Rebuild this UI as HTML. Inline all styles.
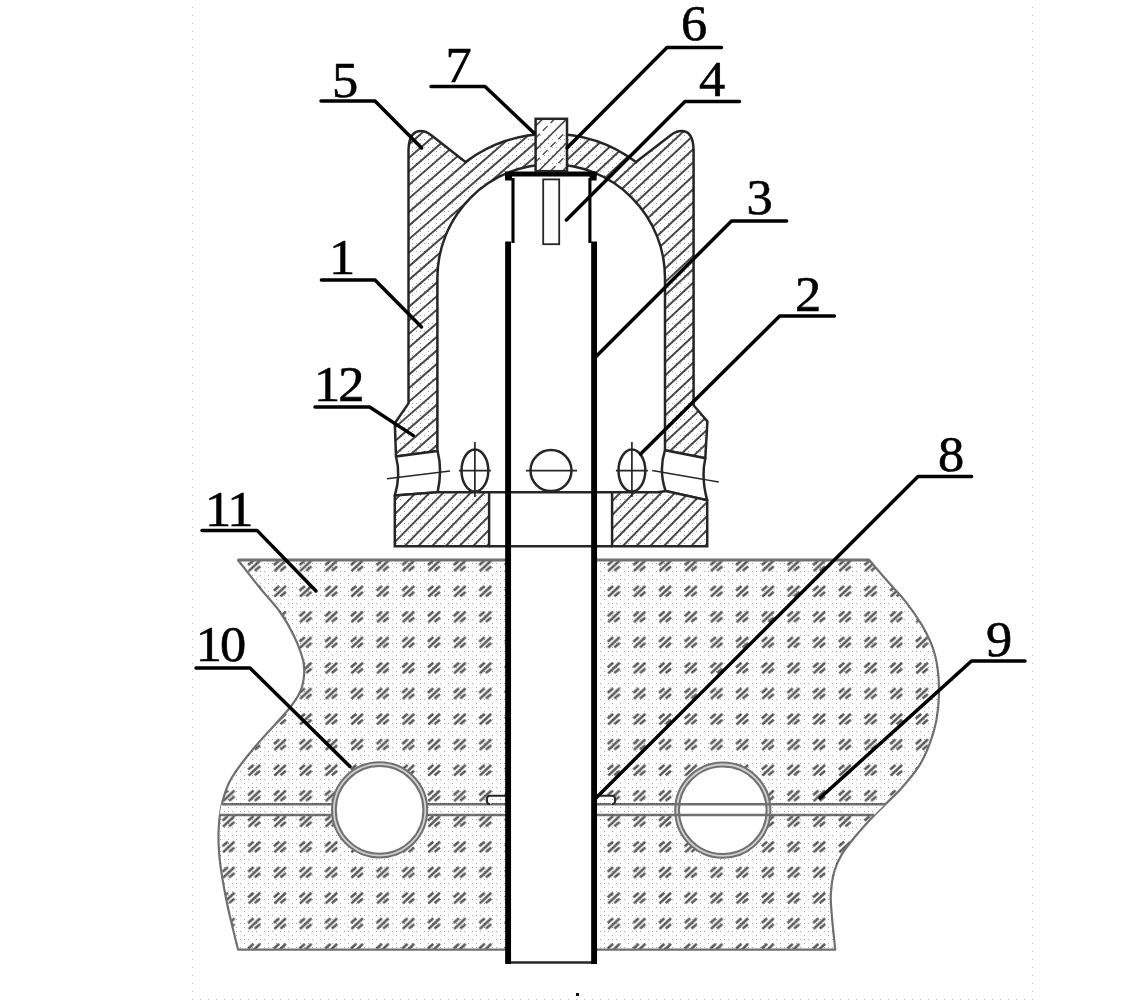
<!DOCTYPE html>
<html lang="zh"><head><meta charset="utf-8"><title>Figure</title>
<style>
html,body{margin:0;padding:0;background:#fff;}
body{width:1126px;height:1000px;overflow:hidden;}
svg{display:block;}
.lb{font-family:"Liberation Serif","Noto Serif CJK SC",serif;font-size:51.4px;fill:#000;stroke:#000;stroke-width:0.6px;letter-spacing:-2px;}
</style></head><body>
<svg width="1126" height="1000" viewBox="0 0 1126 1000">
<defs>
<pattern id="gm" x="10.24" y="16.08" width="25.68" height="25.56" patternUnits="userSpaceOnUse">
<g stroke="#5a5a5a" stroke-width="2.6" stroke-linecap="butt" transform="translate(12.8 12.8)">
<line x1="-6" y1="-0.6" x2="-0.6" y2="-5.3"/>
<line x1="-5.5" y1="5.5" x2="6" y2="-5.1"/>
<line x1="0.6" y1="5.1" x2="6" y2="0.8"/>
</g></pattern>
<pattern id="dz" x="0" y="3" width="16" height="16" patternUnits="userSpaceOnUse">
<g fill="#a4a4a4"><rect x="0" y="0" width="1" height="1"/><rect x="8" y="0" width="1" height="1"/><rect x="4" y="4" width="1" height="1"/><rect x="12" y="4" width="1" height="1"/><rect x="0" y="8" width="1" height="1"/><rect x="4" y="8" width="1" height="1"/><rect x="8" y="8" width="1" height="1"/><rect x="12" y="12" width="1" height="1"/><rect x="4" y="12" width="1" height="1"/><rect x="12" y="0" width="1" height="1"/></g></pattern>
<filter id="bl" x="0" y="0" width="1126" height="1000" filterUnits="userSpaceOnUse"><feGaussianBlur stdDeviation="0.45"/></filter>
<clipPath id="cbl"><path d="M551.2 133 L551.2 164.2 A113.8 113.8 0 0 0 437.4 278 L437.4 451 L396 456.5 L394.8 423.2 L408.5 403.4 L408.5 150 Q409 131 421 131 Q426 131 431 135 L465.5 162 A143 143 0 0 1 551 133 Z"/></clipPath>
<clipPath id="cbr"><path d="M551.2 133 L551.2 164.2 A113.8 113.8 0 0 1 665 278 L665 450.2 L705.3 458.3 L707.4 421.4 L693.6 405.2 L693.6 150 Q693.2 131 681.5 131 Q676 131 671 135 L636 162 A143 143 0 0 0 551 133 Z"/></clipPath>
<clipPath id="csl"><path d="M394.8 495.6 L437.6 492.3 L489.1 492.3 L489.1 546.3 L394.8 546.3 Z"/></clipPath>
<clipPath id="csr"><path d="M612.1 492.3 L658 492.3 L665.6 491 L707.2 500.3 L707.2 546.3 L612.1 546.3 Z"/></clipPath>
<clipPath id="cpin"><rect x="535.6" y="118.8" width="31.4" height="52.4"/></clipPath>
</defs>
<g filter="url(#bl)">
<path d="M238 560 L869.3 560 C872.4 563.6 882.0 574.9 888.0 581.8C894.0 588.7 900.1 594.6 905.6 601.6C911.1 608.6 916.6 616.3 921.0 623.6C925.4 630.9 929.2 638.3 932.0 645.6C934.8 652.9 936.3 659.5 937.5 667.6C938.7 675.7 939.2 685.2 939.0 694.0C938.8 702.8 937.9 712.2 936.4 720.4C934.9 728.6 932.7 735.7 929.8 743.4C926.9 751.1 923.6 758.9 918.8 766.4C914.0 773.9 906.9 782.0 901.2 788.4C895.5 794.8 889.5 800.1 884.7 804.9C879.9 809.7 877.6 811.7 872.6 817.0C867.6 822.3 860.1 830.6 855.0 836.8C849.9 843.0 845.3 848.5 841.8 854.4C838.3 860.3 835.9 865.4 834.1 872.0C832.3 878.6 831.2 886.7 830.8 894.0C830.4 901.3 831.2 906.7 831.9 916.0C832.6 925.3 834.7 944.0 835.2 949.6 L238.1 949.6 C237.4 947.0 236.1 942.2 234.2 934.0C232.2 925.8 228.8 912.3 226.4 900.2C224.0 888.1 221.2 872.9 219.9 861.2C218.6 849.5 218.2 840.0 218.6 830.0C219.0 820.0 220.3 810.1 222.5 801.4C224.7 792.7 226.2 787.1 231.6 778.0C237.0 768.9 245.6 758.1 255.0 746.8C264.4 735.5 280.5 719.1 288.0 710.0C295.5 700.9 297.3 697.7 300.0 692.0C302.7 686.3 303.5 681.3 304.0 676.0C304.5 670.7 304.7 666.7 303.0 660.0C301.3 653.3 297.8 644.0 294.0 636.0C290.2 628.0 285.7 620.0 280.0 612.0C274.3 604.0 267.0 596.7 260.0 588.0C253.0 579.3 241.7 564.7 238.0 560.0 Z" fill="url(#gm)" stroke="#707070" stroke-width="2.2" stroke-linejoin="round"/>
<line x1="238" y1="560" x2="869.5" y2="560" stroke="#707070" stroke-width="2.8"/>
<path d="M221.5 804.3 H885 L874 815 H219.5 Z" fill="#fff" stroke="none"/>
<circle cx="379.6" cy="809.9" r="45.8" fill="#fff" stroke="#d0d0d0" stroke-width="4"/>
<circle cx="379.6" cy="809.9" r="47.6" fill="none" stroke="#707070" stroke-width="2"/>
<circle cx="379.6" cy="809.9" r="43.8" fill="none" stroke="#707070" stroke-width="2"/>
<circle cx="722.8" cy="810.2" r="45.8" fill="#fff" stroke="#d0d0d0" stroke-width="4"/>
<circle cx="722.8" cy="810.2" r="47.6" fill="none" stroke="#707070" stroke-width="2"/>
<circle cx="722.8" cy="810.2" r="43.8" fill="none" stroke="#707070" stroke-width="2"/>
<path d="M221.5 804.3 H332.5 M219.5 815 H332.5 M427 804.3 H885 M427 815 H874" stroke="#707070" stroke-width="2.5" fill="none"/>
<path d="M506 795.7 H490 Q487 795.7 487 798.5 V801.5 Q487 804.1 490 804.1" fill="#fff" stroke="#262626" stroke-width="2"/>
<path d="M596 795.7 H612 Q615 795.7 615 798.5 V801.5 Q615 804.1 612 804.1" fill="#fff" stroke="#262626" stroke-width="2"/>
<path d="M396 456.5 L394.8 423.2 L408.5 403.4 L408.5 150 Q409 131 421 131 Q426 131 431 135 L465.5 162 A143 143 0 0 1 636 162 L671 135 Q676 131 681.5 131 Q693.2 131 693.6 150 L693.6 405.2 L707.4 421.4 L705.3 458.3 L665 450.2 L665 278 A113.8 113.8 0 0 0 437.4 278 L437.4 451 Z" fill="#fff" stroke="none"/>
<path clip-path="url(#cbl)" d="M390.0 106.5L552.0 -34.3M390.0 120.1L552.0 -20.7M390.0 133.6L552.0 -7.2M390.0 147.2L552.0 6.4M390.0 160.7L552.0 19.9M390.0 174.3L552.0 33.5M390.0 187.8L552.0 47.0M390.0 201.4L552.0 60.6M390.0 214.9L552.0 74.1M390.0 228.5L552.0 87.7M390.0 242.0L552.0 101.2M390.0 255.6L552.0 114.8M390.0 269.1L552.0 128.3M390.0 282.7L552.0 141.9M390.0 296.2L552.0 155.4M390.0 309.8L552.0 169.0M390.0 323.3L552.0 182.5M390.0 336.9L552.0 196.1M390.0 350.4L552.0 209.6M390.0 364.0L552.0 223.2M390.0 377.5L552.0 236.7M390.0 391.1L552.0 250.3M390.0 404.6L552.0 263.8M390.0 418.2L552.0 277.4M390.0 431.7L552.0 290.9M390.0 445.3L552.0 304.5M390.0 458.8L552.0 318.0M390.0 472.4L552.0 331.6M390.0 485.9L552.0 345.1M390.0 499.5L552.0 358.7M390.0 513.0L552.0 372.2M390.0 526.6L552.0 385.8M390.0 540.1L552.0 399.3M390.0 553.7L552.0 412.9M390.0 567.2L552.0 426.4M390.0 580.8L552.0 440.0M390.0 594.3L552.0 453.5M390.0 607.9L552.0 467.1M390.0 621.4L552.0 480.6" stroke="#4a4a4a" stroke-width="2.0" fill="none"/>
<path clip-path="url(#cbr)" d="M550.0 109.0L710.0 -40.2M550.0 122.4L710.0 -26.8M550.0 135.7L710.0 -13.5M550.0 149.1L710.0 -0.1M550.0 162.4L710.0 13.2M550.0 175.8L710.0 26.6M550.0 189.1L710.0 39.9M550.0 202.5L710.0 53.3M550.0 215.8L710.0 66.6M550.0 229.2L710.0 80.0M550.0 242.5L710.0 93.3M550.0 255.9L710.0 106.7M550.0 269.2L710.0 120.0M550.0 282.6L710.0 133.4M550.0 295.9L710.0 146.7M550.0 309.3L710.0 160.1M550.0 322.6L710.0 173.4M550.0 336.0L710.0 186.8M550.0 349.3L710.0 200.1M550.0 362.7L710.0 213.5M550.0 376.0L710.0 226.8M550.0 389.4L710.0 240.2M550.0 402.7L710.0 253.5M550.0 416.1L710.0 266.9M550.0 429.4L710.0 280.2M550.0 442.8L710.0 293.6M550.0 456.1L710.0 306.9M550.0 469.5L710.0 320.3M550.0 482.8L710.0 333.6M550.0 496.2L710.0 347.0M550.0 509.5L710.0 360.3M550.0 522.9L710.0 373.7M550.0 536.2L710.0 387.0M550.0 549.6L710.0 400.4M550.0 562.9L710.0 413.7M550.0 576.3L710.0 427.1M550.0 589.6L710.0 440.4M550.0 603.0L710.0 453.8M550.0 616.3L710.0 467.1M550.0 629.7L710.0 480.5" stroke="#4a4a4a" stroke-width="2.0" fill="none"/>
<path d="M396 456.5 L394.8 423.2 L408.5 403.4 L408.5 150 Q409 131 421 131 Q426 131 431 135 L465.5 162 A143 143 0 0 1 636 162 L671 135 Q676 131 681.5 131 Q693.2 131 693.6 150 L693.6 405.2 L707.4 421.4 L705.3 458.3 L665 450.2 L665 278 A113.8 113.8 0 0 0 437.4 278 L437.4 451 Z" fill="none" stroke="#262626" stroke-width="2.5" stroke-linejoin="round"/>
<path d="M396 456.5 L437.6 451 Q442.5 470 437.6 492.3 L394.8 495.6 Q401 475 396 456.5 Z" fill="#fff" stroke="#262626" stroke-width="2.5" stroke-linejoin="round"/>
<path d="M705.3 458.3 L665 450.2 Q658.5 470 665.6 491 L707.2 500.3 Q701 478 705.3 458.3 Z" fill="#fff" stroke="#262626" stroke-width="2.5" stroke-linejoin="round"/>
<path d="M387 478.7 L450 471 M718.8 482 L652.2 470.5" stroke="#262626" stroke-width="1.4" fill="none"/>
<path d="M394.8 495.6 L437.6 492.3 L489.1 492.3 L489.1 546.3 L394.8 546.3 Z" fill="#fff"/><path d="M612.1 492.3 L658 492.3 L665.6 491 L707.2 500.3 L707.2 546.3 L612.1 546.3 Z" fill="#fff"/>
<path clip-path="url(#csl)" d="M394.0 473.2L490.0 375.6M394.0 487.2L490.0 389.5M394.0 501.1L490.0 403.4M394.0 515.1L490.0 417.4M394.0 529.0L490.0 431.3M394.0 542.9L490.0 445.3M394.0 556.9L490.0 459.2M394.0 570.8L490.0 473.1M394.0 584.8L490.0 487.1M394.0 598.7L490.0 501.0M394.0 612.6L490.0 515.0M394.0 626.6L490.0 528.9M394.0 640.5L490.0 542.8M394.0 654.5L490.0 556.8M394.0 668.4L490.0 570.7" stroke="#4a4a4a" stroke-width="2.0" fill="none"/>
<path clip-path="url(#csr)" d="M612.0 473.3L708.0 375.7M612.0 487.3L708.0 389.6M612.0 501.2L708.0 403.5M612.0 515.2L708.0 417.5M612.0 529.1L708.0 431.4M612.0 543.0L708.0 445.4M612.0 557.0L708.0 459.3M612.0 570.9L708.0 473.2M612.0 584.9L708.0 487.2M612.0 598.8L708.0 501.1M612.0 612.7L708.0 515.1M612.0 626.7L708.0 529.0M612.0 640.6L708.0 542.9M612.0 654.6L708.0 556.9M612.0 668.5L708.0 570.8" stroke="#4a4a4a" stroke-width="2.0" fill="none"/>
<path d="M394.8 495.6 L437.6 492.3 L489.1 492.3 L489.1 546.3 L394.8 546.3 Z" fill="none" stroke="#262626" stroke-width="2.5"/>
<path d="M612.1 492.3 L658 492.3 L665.6 491 L707.2 500.3 L707.2 546.3 L612.1 546.3 Z" fill="none" stroke="#262626" stroke-width="2.5"/>
<rect x="508" y="176" width="86" height="786" fill="#fff"/>
<path d="M489.1 492.3 H612.1 M489.1 546.3 H612.1" stroke="#262626" stroke-width="2.5" fill="none"/>
<path d="M508 962.5 H594" stroke="#262626" stroke-width="2.5" fill="none"/>
<path d="M508.1 241.5 V964 M594.1 241.5 V964" stroke="#000" stroke-width="5.9" fill="none"/>
<path d="M513 178 V243 M589.9 178 V243" stroke="#000" stroke-width="3.1" fill="none"/>
<path d="M505 174 H596.6" stroke="#000" stroke-width="5" fill="none"/>
<path d="M508.5 174 V180.5 M593.1 174 V180.5" stroke="#000" stroke-width="7" fill="none"/>
<rect x="543.2" y="179.4" width="16" height="64.8" fill="#fff" stroke="#262626" stroke-width="1.8"/>
<rect x="535.6" y="118.8" width="31.4" height="52.4" fill="#fff" stroke="none"/>
<path clip-path="url(#cpin)" d="M535.0 78.6L568.0 45.6M535.0 102.6L568.0 69.6M535.0 126.6L568.0 93.6M535.0 150.6L568.0 117.6M535.0 174.6L568.0 141.6M535.0 198.6L568.0 165.6M535.0 222.6L568.0 189.6M535.0 246.6L568.0 213.6" stroke="#4a4a4a" stroke-width="1.6" fill="none"/>
<path clip-path="url(#cpin)" d="M535.0 90.6L568.0 57.6M535.0 114.6L568.0 81.6M535.0 138.6L568.0 105.6M535.0 162.6L568.0 129.6M535.0 186.6L568.0 153.6M535.0 210.6L568.0 177.6M535.0 234.6L568.0 201.6" stroke="#4a4a4a" stroke-width="1.4" fill="none" stroke-dasharray="7 4"/>
<rect x="535.6" y="118.8" width="31.4" height="52.4" fill="none" stroke="#262626" stroke-width="2.5"/>
<circle cx="551" cy="470.6" r="20.5" fill="#fff" stroke="#262626" stroke-width="2.5"/>
<path d="M526 470.6 H577" stroke="#262626" stroke-width="1.7"/>
<ellipse cx="474.9" cy="470.6" rx="13.4" ry="21" fill="#fff" stroke="#262626" stroke-width="2.5"/>
<path d="M474.9 442 V497 M458.9 470.6 H490.9" stroke="#262626" stroke-width="1.7" fill="none"/>
<ellipse cx="631.9" cy="470.6" rx="13.4" ry="21" fill="#fff" stroke="#262626" stroke-width="2.5"/>
<path d="M631.9 442 V497 M615.9 470.6 H647.9" stroke="#262626" stroke-width="1.7" fill="none"/>
<path d="M321 101 H375 L421.6 148" fill="none" stroke="#000" stroke-width="3.5" stroke-linejoin="round" stroke-linecap="round"/>
<text transform="translate(344.2 96.9) scale(1.02 1)" text-anchor="middle" class="lb">5</text>
<path d="M431 86.4 H485 L534 133" fill="none" stroke="#000" stroke-width="3.5" stroke-linejoin="round" stroke-linecap="round"/>
<text transform="translate(457.7 81.9) scale(1.02 1)" text-anchor="middle" class="lb">7</text>
<path d="M721.5 47.4 H667 L567 148" fill="none" stroke="#000" stroke-width="3.5" stroke-linejoin="round" stroke-linecap="round"/>
<text transform="translate(693.2 40.2) scale(1.02 1)" text-anchor="middle" class="lb">6</text>
<path d="M739.5 101.4 H685 L566.4 220" fill="none" stroke="#000" stroke-width="3.5" stroke-linejoin="round" stroke-linecap="round"/>
<text transform="translate(711.2 95.9) scale(1.02 1)" text-anchor="middle" class="lb">4</text>
<path d="M786.6 221 H731.5 L595.3 357.3" fill="none" stroke="#000" stroke-width="3.5" stroke-linejoin="round" stroke-linecap="round"/>
<text transform="translate(758.7 214.2) scale(1.02 1)" text-anchor="middle" class="lb">3</text>
<path d="M834.4 316 H779.7 L640.6 454" fill="none" stroke="#000" stroke-width="3.5" stroke-linejoin="round" stroke-linecap="round"/>
<text transform="translate(807.2 310.6) scale(1.02 1)" text-anchor="middle" class="lb">2</text>
<path d="M321.4 280 H375 L421.5 327" fill="none" stroke="#000" stroke-width="3.5" stroke-linejoin="round" stroke-linecap="round"/>
<text transform="translate(341.2 274) scale(1.02 1)" text-anchor="middle" class="lb">1</text>
<path d="M315 407 H369.6 L413.4 435.6" fill="none" stroke="#000" stroke-width="3.5" stroke-linejoin="round" stroke-linecap="round"/>
<text transform="translate(338.2 400.8) scale(1.02 1)" text-anchor="middle" class="lb">12</text>
<path d="M202 530.4 H257 L316 591" fill="none" stroke="#000" stroke-width="3.5" stroke-linejoin="round" stroke-linecap="round"/>
<text transform="translate(228.2 526) scale(1.02 1)" text-anchor="middle" class="lb">11</text>
<path d="M196 668 H250 L350 766.4" fill="none" stroke="#000" stroke-width="3.5" stroke-linejoin="round" stroke-linecap="round"/>
<text transform="translate(220 660.6) scale(1.02 1)" text-anchor="middle" class="lb">10</text>
<path d="M971.6 476.4 H918 L596 798" fill="none" stroke="#000" stroke-width="3.5" stroke-linejoin="round" stroke-linecap="round"/>
<text transform="translate(950 471.4) scale(1.02 1)" text-anchor="middle" class="lb">8</text>
<path d="M1025 661 H971.5 L820 798" fill="none" stroke="#000" stroke-width="3.5" stroke-linejoin="round" stroke-linecap="round"/>
<text transform="translate(998 655.8) scale(1.02 1)" text-anchor="middle" class="lb">9</text>
<path d="M192.5 7 V1000 M1032.5 7 V1000" stroke="#c0c0c0" stroke-width="1" stroke-dasharray="1 7" fill="none"/>
<path d="M192 999.5 H1033" stroke="#c0c0c0" stroke-width="1" stroke-dasharray="1 7" fill="none"/>
<rect x="576" y="993" width="3" height="3" fill="#111"/>
</g>
<g style="mix-blend-mode:multiply"><path d="M238 560 L869.3 560 C872.4 563.6 882.0 574.9 888.0 581.8C894.0 588.7 900.1 594.6 905.6 601.6C911.1 608.6 916.6 616.3 921.0 623.6C925.4 630.9 929.2 638.3 932.0 645.6C934.8 652.9 936.3 659.5 937.5 667.6C938.7 675.7 939.2 685.2 939.0 694.0C938.8 702.8 937.9 712.2 936.4 720.4C934.9 728.6 932.7 735.7 929.8 743.4C926.9 751.1 923.6 758.9 918.8 766.4C914.0 773.9 906.9 782.0 901.2 788.4C895.5 794.8 889.5 800.1 884.7 804.9C879.9 809.7 877.6 811.7 872.6 817.0C867.6 822.3 860.1 830.6 855.0 836.8C849.9 843.0 845.3 848.5 841.8 854.4C838.3 860.3 835.9 865.4 834.1 872.0C832.3 878.6 831.2 886.7 830.8 894.0C830.4 901.3 831.2 906.7 831.9 916.0C832.6 925.3 834.7 944.0 835.2 949.6 L238.1 949.6 C237.4 947.0 236.1 942.2 234.2 934.0C232.2 925.8 228.8 912.3 226.4 900.2C224.0 888.1 221.2 872.9 219.9 861.2C218.6 849.5 218.2 840.0 218.6 830.0C219.0 820.0 220.3 810.1 222.5 801.4C224.7 792.7 226.2 787.1 231.6 778.0C237.0 768.9 245.6 758.1 255.0 746.8C264.4 735.5 280.5 719.1 288.0 710.0C295.5 700.9 297.3 697.7 300.0 692.0C302.7 686.3 303.5 681.3 304.0 676.0C304.5 670.7 304.7 666.7 303.0 660.0C301.3 653.3 297.8 644.0 294.0 636.0C290.2 628.0 285.7 620.0 280.0 612.0C274.3 604.0 267.0 596.7 260.0 588.0C253.0 579.3 241.7 564.7 238.0 560.0 Z M505 560.05 H597 V949.55 H505 Z M331.1 809.9a48.5 48.5 0 1 0 97.0 0a48.5 48.5 0 1 0 -97.0 0ZM674.3 810.2a48.5 48.5 0 1 0 97.0 0a48.5 48.5 0 1 0 -97.0 0Z" fill="url(#dz)" fill-rule="evenodd"/><path d="M396 456.5 L394.8 423.2 L408.5 403.4 L408.5 150 Q409 131 421 131 Q426 131 431 135 L465.5 162 A143 143 0 0 1 636 162 L671 135 Q676 131 681.5 131 Q693.2 131 693.6 150 L693.6 405.2 L707.4 421.4 L705.3 458.3 L665 450.2 L665 278 A113.8 113.8 0 0 0 437.4 278 L437.4 451 Z" fill="url(#dz)"/><path d="M394.8 495.6 L437.6 492.3 L489.1 492.3 L489.1 546.3 L394.8 546.3 Z" fill="url(#dz)"/><path d="M612.1 492.3 L658 492.3 L665.6 491 L707.2 500.3 L707.2 546.3 L612.1 546.3 Z" fill="url(#dz)"/></g>
</svg>
</body></html>
